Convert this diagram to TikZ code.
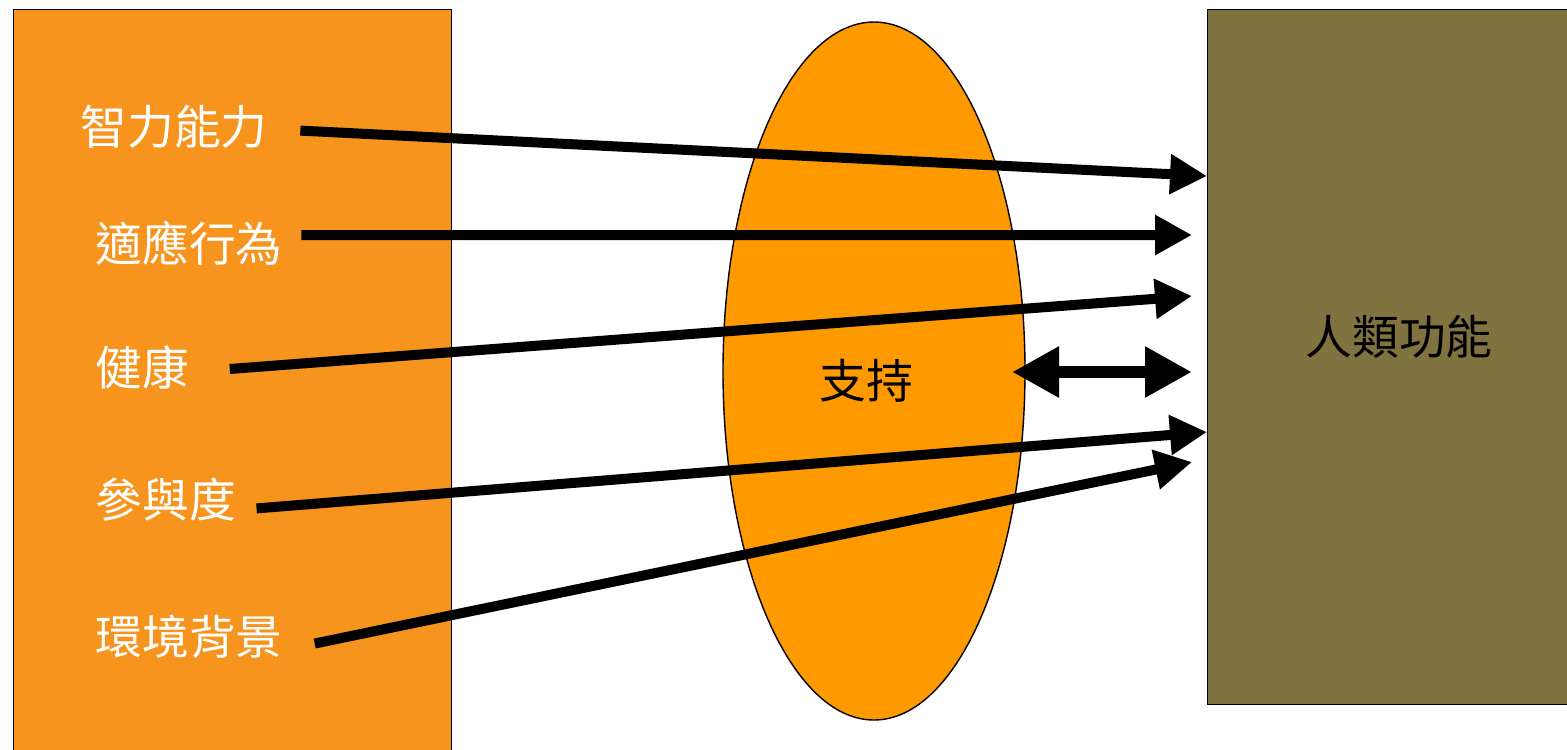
\documentclass[tikz,border=0pt]{standalone}
\usepackage{fontspec}
\usepackage{tikz}
\usetikzlibrary{shapes.geometric, arrows.meta, positioning}
\newfontfamily\cjk{Noto Sans CJK TC}
\definecolor{factorbg}{RGB}{247,148,30}
\definecolor{supportbg}{RGB}{255,153,0}
\definecolor{outcomebg}{RGB}{128,115,64}

\begin{document}
\begin{tikzpicture}[
  panel/.style={rectangle, draw=black, thin, anchor=north west},
  factor/.style={anchor=west, inner sep=0pt, text=white, font=\cjk\fontsize{13.3}{16}\selectfont},
  tag/.style={inner sep=0pt, text=black, font=\cjk\fontsize{13.3}{16}\selectfont},
  arrow/.style={line width=0.1cm, -{Triangle[length=0.37cm, width=0.38cm]}},
  biarrow/.style={line width=0.12cm, {Triangle[length=0.47cm, width=0.48cm]}-{Triangle[length=0.47cm, width=0.48cm]}}
]
\useasboundingbox (0,0) rectangle (15.67,-7.49);

% boxes
\node[panel, fill=factorbg, minimum width=4.38cm, minimum height=7.7cm] (factors) at (0.13,-0.09) {};
\node[panel, fill=outcomebg, minimum width=3.8cm, minimum height=6.95cm] (outcome) at (12.07,-0.09) {};
\node[ellipse, draw=black, thin, fill=supportbg, minimum width=3.02cm, minimum height=6.98cm] (support) at (8.74,-3.71) {};

% labels
\node[factor] (ability) at (0.80,-1.27) {智力能力};
\node[factor] (adaptive) at (0.95,-2.43) {適應行為};
\node[factor] (health) at (0.95,-3.67) {健康};
\node[factor] (participation) at (0.95,-5.0) {參與度};
\node[factor] (context) at (0.95,-6.37) {環境背景};
\node[tag] (function) at (13.99,-3.37) {人類功能};
\node[tag] (supports) at (8.66,-3.81) {支持};

% arrow ends
\coordinate (e1) at (12.07,-1.76);
\coordinate (e2) at (11.92,-2.35);
\coordinate (e3) at (11.92,-2.96);
\coordinate (e4) at (12.07,-4.32);
\coordinate (e5) at (11.92,-4.62);
\coordinate (b1) at (10.12,-3.72);
\coordinate (b2) at (11.92,-3.72);

\draw[arrow, shorten <=0.32cm] ([yshift=-0.02cm]ability.east) -- (e1);
\draw[arrow, shorten <=0.18cm] ([yshift=0.08cm]adaptive.east) -- (e2);
\draw[arrow, shorten <=0.40cm] ([yshift=-0.05cm]health.east) -- (e3);
\draw[arrow, shorten <=0.20cm] ([yshift=-0.10cm]participation.east) -- (e4);
\draw[arrow, shorten <=0.32cm] ([yshift=-0.13cm]context.east) -- (e5);
\draw[biarrow] (b1) -- (b2);

\end{tikzpicture}
\end{document}
